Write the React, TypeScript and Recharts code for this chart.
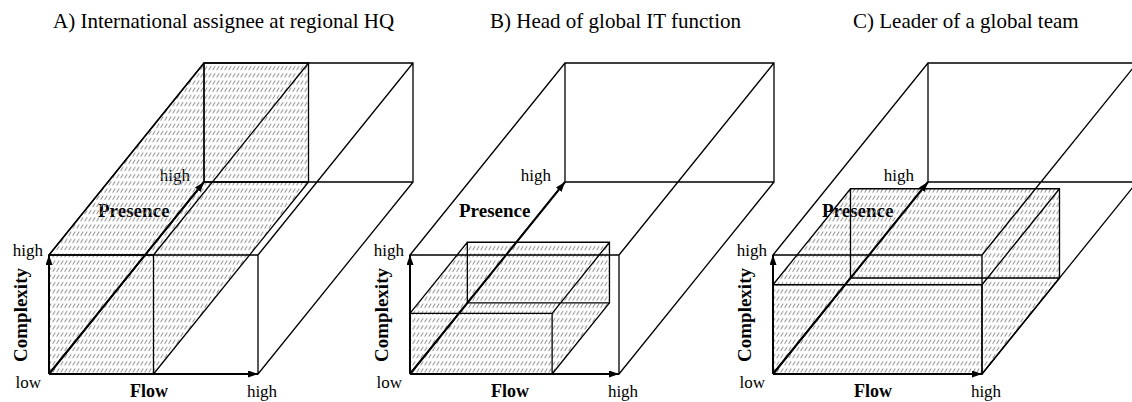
import { ComposedChart, Line, XAxis, YAxis } from 'recharts'

// panel titles
const panelTitles = [
  'A) International assignee at regional HQ',
  'B) Head of global IT function',
  'C) Leader of a global team',
]

// hatched block per panel, as a share of the full cube along each dimension
const flowExtent = [0.5, 0.68, 1]
const complexityExtent = [1, 0.51, 0.75]
const presenceExtent = [1, 0.37, 0.5]

// axis names and end labels
const flowName = 'Flow'
const complexityName = 'Complexity'
const presenceName = 'Presence'
const lowLabel = 'low'
const highLabel = 'high'

// layout (pixels)
const CHART_W = 1132
const CHART_H = 402
const originX = [49, 410, 773]
const titleX = [53, 490, 853]
const ORIGIN_Y = 374
const FLOW_LEN = 209
const COMPLEXITY_LEN = 119
const DEPTH_X = 155
const DEPTH_Y = 192

const serif = '"Liberation Serif", "Times New Roman", Times, serif'
const txt = { fontFamily: serif }

type Pt = { x: number; y: number | null }

function project(panel: number, f: number, c: number, p: number): Pt {
  return {
    x: originX[panel] + f * FLOW_LEN + p * DEPTH_X,
    y: ORIGIN_Y - c * COMPLEXITY_LEN - p * DEPTH_Y,
  }
}

const gap = (pt: Pt): Pt => ({ x: pt.x, y: null })

/** all 12 edges of a box, as one polyline broken by gaps */
function boxWire(panel: number, f: number, c: number, p: number): Pt[] {
  const P = (a: number, b: number, d: number) => project(panel, a * f, b * c, d * p)
  const out: Pt[] = []
  const front = [P(0, 0, 0), P(1, 0, 0), P(1, 1, 0), P(0, 1, 0), P(0, 0, 0)]
  const back = [P(0, 0, 1), P(1, 0, 1), P(1, 1, 1), P(0, 1, 1), P(0, 0, 1)]
  out.push(...front, gap(front[0]), ...back, gap(back[0]))
  const corners: [number, number][] = [[0, 0], [1, 0], [1, 1], [0, 1]]
  corners.forEach(([a, b]) => {
    const s = P(a, b, 0)
    out.push(s, P(a, b, 1), gap(s))
  })
  return out
}

/** outline of the block as seen from the front */
function silhouette(panel: number, f: number, c: number, p: number): Pt[] {
  const P = (a: number, b: number, d: number) => project(panel, a * f, b * c, d * p)
  return [P(0, 0, 0), P(1, 0, 0), P(1, 0, 1), P(1, 1, 1), P(0, 1, 1), P(0, 1, 0), P(0, 0, 0)]
}

export default function App() {
  const panels = [0, 1, 2]
  return (
    <div style={{ width: CHART_W, height: CHART_H, background: '#fff' }}>
      <style>{`
        body { margin: 0; }
        .hatched .recharts-line-curve { fill: url(#hatch); }
      `}</style>
      <ComposedChart width={CHART_W} height={CHART_H} margin={{ top: 0, right: 0, bottom: 0, left: 0 }}>
        <defs>
          <pattern id="hatch" width="4" height="7.2" patternUnits="userSpaceOnUse">
            <line x1="0.6" y1="5.4" x2="3.2" y2="1.4" stroke="#8c8c8c" strokeWidth="1" />
          </pattern>
          <marker id="arrowhead" viewBox="0 0 10 7" refX="10" refY="3.5" markerWidth="10" markerHeight="7"
            markerUnits="userSpaceOnUse" orient="auto">
            <path d="M0,0 L10,3.5 L0,7 z" fill="#000" />
          </marker>
        </defs>
        <XAxis type="number" dataKey="x" domain={[0, CHART_W]} hide allowDataOverflow />
        <YAxis type="number" domain={[0, CHART_H]} hide reversed allowDataOverflow />

        {panels.map((i) => (
          <Line key={`h${i}`} className="hatched" data={silhouette(i, flowExtent[i], complexityExtent[i], presenceExtent[i])}
            dataKey="y" stroke="none" dot={false} activeDot={false} isAnimationActive={false} />
        ))}
        {panels.map((i) => (
          <Line key={`b${i}`} data={boxWire(i, 1, 1, 1)} dataKey="y" stroke="#000" strokeWidth={1.3}
            dot={false} activeDot={false} isAnimationActive={false} />
        ))}
        {panels.map((i) => (
          <Line key={`s${i}`} data={boxWire(i, flowExtent[i], complexityExtent[i], presenceExtent[i])} dataKey="y"
            stroke="#000" strokeWidth={1.3} dot={false} activeDot={false} isAnimationActive={false} />
        ))}
        {panels.flatMap((i) =>
          [project(i, 1, 0, 0), project(i, 0, 1, 0), project(i, 0, 0, 1)].map((end, k) => (
            <Line key={`a${i}${k}`} data={[project(i, 0, 0, 0), end]} dataKey="y" stroke="#000" strokeWidth={2}
              markerEnd="url(#arrowhead)" dot={false} activeDot={false} isAnimationActive={false} />
          )),
        )}

        {panels.map((i) => {
          const ox = originX[i]
          return (
            <g key={`t${i}`} fill="#000">
              <text x={titleX[i]} y={28} fontSize={21} style={txt}>{panelTitles[i]}</text>
              <text x={ox - 6} y={256} fontSize={17} textAnchor="end" style={txt}>{highLabel}</text>
              <text x={ox - 8} y={388} fontSize={17} textAnchor="end" style={txt}>{lowLabel}</text>
              <text x={ox + 100} y={397} fontSize={18} fontWeight="bold" textAnchor="middle" style={txt}>{flowName}</text>
              <text x={ox + 213} y={397} fontSize={17} textAnchor="middle" style={txt}>{highLabel}</text>
              <text x={ox + 141} y={181} fontSize={17} textAnchor="end" style={txt}>{highLabel}</text>
              <text x={ox + 49} y={217} fontSize={19} fontWeight="bold" style={txt}>{presenceName}</text>
              <text x={ox - 22} y={315} fontSize={19} fontWeight="bold" textAnchor="middle" style={txt}
                transform={`rotate(-90 ${ox - 22} 315)`}>{complexityName}</text>
            </g>
          )
        })}
      </ComposedChart>
    </div>
  )
}
